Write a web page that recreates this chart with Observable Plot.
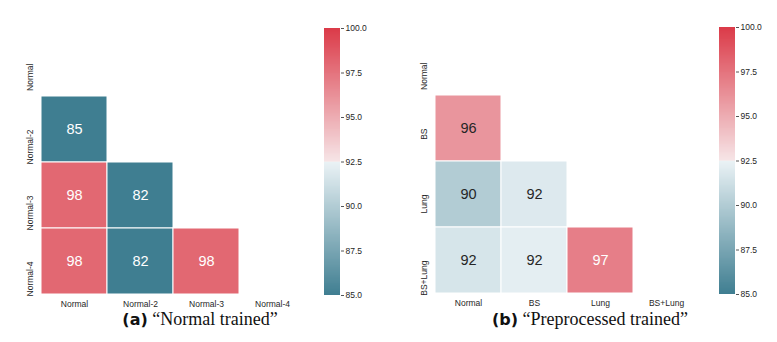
<!DOCTYPE html>
<html>
<head>
<meta charset="utf-8">
<script src="https://cdn.jsdelivr.net/npm/d3@7"></script>
<script src="https://cdn.jsdelivr.net/npm/@observablehq/plot@0.6"></script>
<style>
  html, body { margin: 0; padding: 0; background: #fff; }
  #root { position: relative; width: 777px; height: 342px; overflow: hidden; background: #fff; }
  #root > div.p { position: absolute; top: 0; }
  .cap { position: absolute; top: 309px; font-family: "Liberation Serif", "DejaVu Serif", serif; font-size: 18px; color: #111; white-space: nowrap; transform: translateX(-50%); }
  .cap b { font-family: "DejaVu Sans", "Liberation Sans", sans-serif; font-weight: bold; font-size: 16px; }
</style>
</head>
<body>
<div id="root"></div>
<script>
// ---- data ----
const catsA = ["Normal", "Normal-2", "Normal-3", "Normal-4"];
const rowsA = ["Normal-2", "Normal-3", "Normal-3", "Normal-4", "Normal-4", "Normal-4"];
const colsA = ["Normal", "Normal", "Normal-2", "Normal", "Normal-2", "Normal-3"];
const valsA = [85, 98, 82, 98, 82, 98];

const catsB = ["Normal", "BS", "Lung", "BS+Lung"];
const rowsB = ["BS", "Lung", "Lung", "BS+Lung", "BS+Lung", "BS+Lung"];
const colsB = ["Normal", "Normal", "BS", "Normal", "BS", "Lung"];
const valsB = [96, 90, 91.9, 91.6, 92.2, 97];

const cbTicks = [85, 87.5, 90, 92.5, 95, 97.5, 100];
const captionA = "“Normal trained”";
const captionB = "“Preprocessed trained”";

// ---- styling ----
const colorScale = {
  type: "linear",
  domain: [85, 92.45, 92.5, 92.55, 100],
  range: ["#3f7e91", "#eaf2f5", "#f2f2f2", "#f6e4e6", "#db3a48"],
  interpolate: "rgb",
  clamp: true
};
const sansFont = "'Liberation Sans', Arial, sans-serif";

function annotColor(v) {
  return (v <= 87.5 || v >= 96.8) ? "#ffffff" : "#262626";
}

function heatmap(cats, rows, cols, vals, width, height) {
  const data = vals.map((v, i) => ({row: rows[i], col: cols[i], v}));
  return Plot.plot({
    width, height,
    marginLeft: 40, marginRight: 5, marginTop: 28, marginBottom: 20,
    style: {fontFamily: sansFont, background: "transparent"},
    x: {domain: cats, padding: 0, axis: null},
    y: {domain: cats, padding: 0, axis: null},
    color: colorScale,
    marks: [
      Plot.cell(data, {x: "col", y: "row", fill: "v", stroke: "#ffffff", strokeWidth: 1}),
      Plot.text(data, {x: "col", y: "row", text: d => d3.format(".0f")(d.v),
        fill: d => annotColor(d.v), fontSize: 14.5}),
      Plot.text(cats, {x: d => d, frameAnchor: "bottom", dy: 9, text: d => d,
        fontSize: 8.5, fill: "#262626", lineAnchor: "middle"}),
      Plot.text(cats, {y: d => d, frameAnchor: "left", dx: -10, text: d => d,
        rotate: -90, textAnchor: "end", lineAnchor: "middle", fontSize: 8.5, fill: "#262626"})
    ]
  });
}

function colorbar(width, height, mt, mb) {
  const steps = d3.range(85, 100, 0.05);
  return Plot.plot({
    width, height,
    marginLeft: 0, marginRight: width - 16, marginTop: mt, marginBottom: mb,
    style: {fontFamily: sansFont, background: "transparent"},
    x: {domain: [0, 1], axis: null},
    y: {domain: [85, 100], axis: null},
    color: colorScale,
    marks: [
      Plot.rect(steps, {x1: 0, x2: 1, y1: d => d, y2: d => Math.min(100, d + 0.1),
        fill: d => d + 0.025, shapeRendering: "crispEdges"}),
      Plot.axisY(cbTicks, {anchor: "right", tickSize: 3, tickPadding: 2, tickFormat: d3.format(".1f"),
        fontSize: 8.5, color: "#262626", stroke: "#555"})
    ]
  });
}

const root = document.getElementById("root");
function place(node, left, top) {
  const d = document.createElement("div");
  d.className = "p";
  d.style.left = left + "px";
  d.style.top = top + "px";
  d.appendChild(node);
  root.appendChild(d);
}

place(heatmap(catsA, rowsA, colsA, valsA, 310, 315), 0, 0);
place(colorbar(60, 315, 28, 20), 324, 0);
place(heatmap(catsB, rowsB, colsB, valsB, 311, 314), 394, 0);
place(colorbar(58, 314, 27, 20), 719, 0);

function caption(label, text, cx) {
  const d = document.createElement("div");
  d.className = "cap";
  d.style.left = cx + "px";
  const b = document.createElement("b");
  b.textContent = label;
  d.appendChild(b);
  d.appendChild(document.createTextNode(" " + text));
  root.appendChild(d);
}
caption("(a)", captionA, 200);
caption("(b)", captionB, 590);
</script>
</body>
</html>
